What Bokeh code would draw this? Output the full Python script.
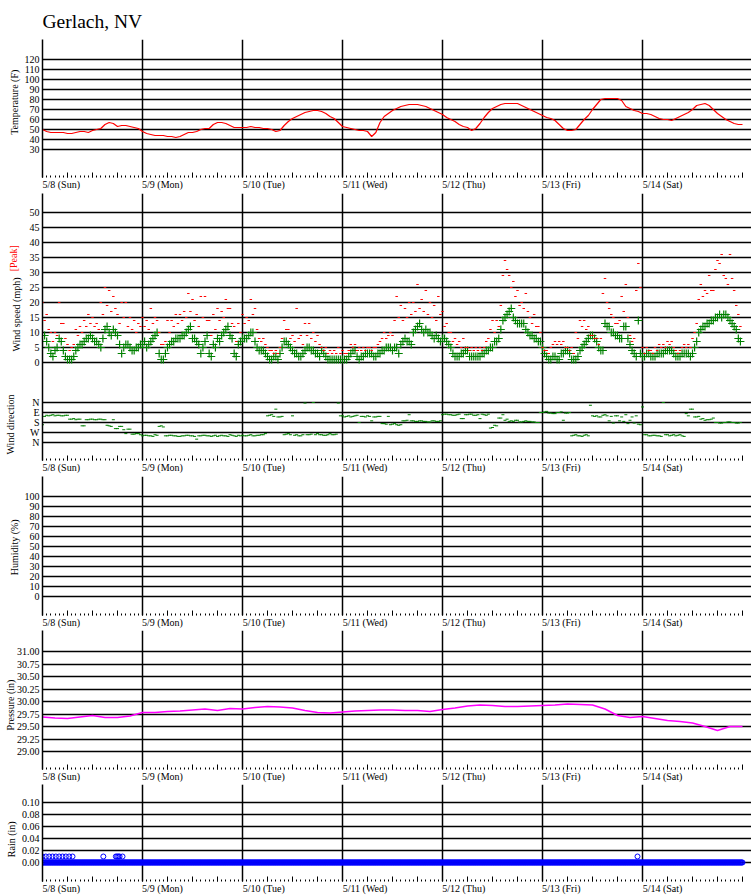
import numpy as np
from bokeh.plotting import figure
from bokeh.layouts import column
from bokeh.models import (Range1d, FixedTicker, LinearAxis, PrintfTickFormatter)
from bokeh.embed import file_html
from bokeh.resources import INLINE

FONT = "Liberation Serif"

title_text = "Gerlach, NV"
day_labels = ["5/8 (Sun)", "5/9 (Mon)", "5/10 (Tue)", "5/11 (Wed)",
              "5/12 (Thu)", "5/13 (Fri)", "5/14 (Sat)"]
dir_names = ["N", "E", "S", "W", "N"]
dir_values = [0, 90, 180, 270, 360]

# ---------------- Temperature (F), hourly from 5/8 00:00 ----------------
temp_d0 = [50, 48, 47, 47, 47, 47, 46, 46, 47, 48, 48, 47, 49, 50, 51, 55, 57, 56, 53, 54, 54, 53, 52, 51]
temp_d1 = [48, 46, 45, 44, 44, 44, 43, 43, 42, 43, 45, 47, 47, 48, 50, 51, 51, 55, 57, 57, 56, 54, 52, 52]
temp_d2 = [52, 52, 53, 52, 52, 51, 51, 50, 48, 49, 54, 58, 61, 63, 65, 67, 68, 69, 69, 68, 66, 63, 61, 57]
temp_d3 = [53, 52, 51, 50, 49, 49, 48, 43, 47, 57, 63, 66, 69, 71, 73, 74, 75, 75, 75, 74, 73, 71, 69, 67]
temp_d4 = [65, 62, 60, 58, 55, 53, 52, 49, 51, 56, 62, 67, 71, 73, 75, 76, 76, 76, 76, 74, 72, 70, 68, 66]
temp_d5 = [64, 62, 61, 59, 55, 51, 49, 49, 50, 55, 60, 64, 70, 75, 80, 81, 81, 81, 81, 79, 73, 71, 69, 68]
temp_d6 = [66, 66, 65, 63, 61, 60, 60, 59, 61, 63, 65, 67, 70, 74, 75, 76, 74, 70, 66, 63, 60, 58, 56, 55]
temp_end = [55]

# ---------------- Wind speed (mph), half-hourly ----------------
speed_d0 = [7, 9, 7, 5, 3, 2, 4, 5, 8, 7, 4, 2, 1, 1, 1, 2, 4, 5, 6, 6, 7, 8, 8, 9,
            8, 7, 7, 6, 5, 8, 11, 12, 10, 9, 11, 10, 9, 6, 3, 5, 6, 6, 5, 4, 4, 5, 5, 6]
speed_d1 = [6, 7, 5, 6, 7, 8, 9, 10, 3, 1, 1, 3, 5, 6, 7, 7, 8, 8, 8, 9, 9, 10, 11, 12,
            8, 8, 7, 6, 3, 5, 7, 9, 3, 2, 6, 5, 8, 7, 9, 10, 11, 12, 9, 8, 3, 2, 6, 7]
speed_d2 = [8, 8, 8, 9, 10, 10, 7, 5, 4, 4, 4, 3, 2, 1, 1, 2, 2, 1, 3, 5, 7, 7, 6, 5,
            4, 3, 3, 2, 2, 3, 4, 5, 5, 4, 4, 3, 3, 2, 4, 3, 2, 1, 1, 1, 1, 1, 1, 1]
speed_d3 = [1, 1, 1, 2, 3, 4, 4, 2, 1, 2, 2, 3, 3, 3, 3, 2, 2, 3, 3, 4, 4, 5, 5, 5,
            4, 5, 5, 3, 6, 7, 8, 7, 7, 6, 10, 11, 12, 13, 11, 10, 11, 10, 10, 9, 8, 9, 8, 7]
speed_d4 = [8, 8, 7, 6, 5, 3, 2, 2, 2, 3, 3, 4, 4, 2, 2, 2, 2, 2, 2, 3, 3, 4, 4, 5,
            5, 7, 7, 8, 11, 14, 15, 16, 17, 18, 15, 14, 13, 13, 13, 13, 11, 10, 9, 9, 8, 8, 7, 7]
speed_d5 = [5, 3, 2, 1, 1, 2, 2, 1, 1, 3, 3, 4, 4, 3, 1, 1, 1, 2, 4, 5, 6, 7, 8, 9,
            9, 8, 7, 5, 4, 4, 13, 12, 12, 10, 10, 9, 9, 8, 8, 12, 12, 8, 6, 4, 3, 2, 14, 3]
speed_d6 = [2, 2, 3, 3, 2, 2, 2, 3, 3, 3, 3, 4, 4, 4, 4, 3, 2, 2, 2, 3, 3, 3, 3, 2,
            3, 5, 7, 10, 11, 12, 12, 13, 13, 14, 14, 15, 15, 16, 15, 16, 16, 15, 14, 13, 12, 11, 8, 7]

# ---------------- Peak wind (mph), half-hourly ----------------
peak_d0 = [20, 14, 16, 11, 10, 7, 10, 9, 20, 13, 13, 8, 6, 4, 5, 6, 11, 9, 12, 10, 14, 12, 16, 13,
           15, 12, 13, 11, 20, 16, 25, 19, 24, 17, 22, 18, 16, 13, 20, 15, 20, 12, 15, 11, 14, 10, 13, 12]
peak_d1 = [15, 12, 14, 11, 18, 13, 15, 14, 10, 6, 6, 7, 14, 10, 14, 12, 16, 13, 16, 14, 17, 15, 23, 17,
           21, 14, 16, 12, 22, 15, 22, 14, 14, 9, 16, 11, 18, 14, 17, 15, 21, 18, 18, 13, 12, 7, 13, 10]
peak_d2 = [16, 13, 15, 14, 21, 16, 18, 11, 8, 7, 8, 6, 5, 4, 4, 3, 4, 3, 5, 8, 14, 11, 11, 8,
           9, 7, 18, 8, 9, 6, 13, 9, 13, 8, 10, 7, 9, 6, 5, 4, 5, 3, 4, 3, 4, 3, 5, 3]
peak_d3 = [4, 3, 3, 4, 6, 5, 6, 4, 5, 4, 5, 4, 5, 5, 4, 5, 5, 6, 7, 8, 10, 8, 9, 10,
           9, 14, 22, 15, 19, 14, 18, 15, 20, 16, 20, 17, 26, 18, 21, 17, 24, 16, 20, 15, 19, 14, 22, 16]
peak_d4 = [17, 12, 13, 10, 10, 7, 8, 6, 7, 5, 8, 5, 5, 4, 5, 4, 5, 4, 5, 4, 5, 7, 8, 11,
           14, 10, 14, 12, 19, 29, 34, 31, 29, 25, 27, 22, 24, 19, 20, 18, 23, 17, 15, 13, 16, 12, 12, 10]
peak_d5 = [5, 4, 4, 3, 5, 6, 7, 6, 7, 6, 7, 5, 5, 4, 5, 3, 10, 8, 14, 12, 14, 11, 12, 9,
           9, 8, 8, 6, 8, 23, 28, 20, 18, 16, 15, 13, 13, 14, 22, 17, 26, 15, 9, 7, 8, 24, 33, 25]
peak_d6 = [5, 3, 5, 4, 4, 3, 5, 4, 6, 5, 6, 5, 7, 6, 7, 5, 4, 3, 4, 5, 6, 5, 6, 5,
           8, 10, 13, 21, 26, 22, 24, 23, 29, 24, 24, 31, 34, 33, 36, 29, 28, 26, 36, 28, 24, 19, 16, 12]

# ---------------- Wind direction (degrees), half-hourly ----------------
dir_d0 = [200, 125, 115, 120, 115, 110, 120, 115, 115, 120, 120, 115, 115, 150, 150, 145, 155, 150, 150, 210,
          210, 155, 155, 150, 150, 155, 155, 150, 150, 155, 155, 205, 210, 215, 155, 235, 235, 215, 215, 245,
          280, 240, 240, 285, 285, 280, 280, 290]
dir_d1 = [300, 295, 295, 300, 300, 305, 290, 295, 215, 210, 220, 300, 300, 295, 295, 300, 300, 305, 305, 300,
          300, 295, 295, 300, 300, 305, 330, 300, 300, 295, 295, 300, 300, 305, 300, 295, 305, 300, 295, 300,
          300, 305, 290, 295, 300, 305, 295, 300]
dir_d2 = [295, 300, 300, 295, 290, 300, 300, 295, 295, 290, 290, 280, 120, 115, 110, 125, 60, 130, 130, 125,
          290, 285, 280, 290, 120, 295, 290, 300, 300, 290, 5, 290, 290, 285, 0, 290, 280, 290, 290, 295,
          295, 290, 280, 290, 290, 285, 5, 120]
dir_d3 = [120, 130, 125, 120, 130, 125, 120, 115, 180, 125, 125, 130, 120, 125, 165, 130, 130, 125, 125, 190,
          190, 195, 125, 200, 195, 190, 200, 205, 200, 165, 165, 160, 110, 165, 165, 170, 170, 165, 165, 170,
          170, 175, 175, 165, 165, 170, 170, 165]
dir_d4 = [110, 105, 105, 110, 110, 115, 115, 110, 105, 145, 145, 110, 110, 105, 105, 115, 115, 110, 145, 105,
          110, 115, 105, 230, 225, 205, 210, 140, 140, 110, 160, 150, 170, 165, 170, 160, 160, 175, 175, 170,
          165, 170, 170, 175, 175, 180, 180, 90]
dir_d5 = [90, 85, 80, 95, 95, 100, 100, 90, 90, 85, 160, 95, 95, 90, 300, 295, 290, 300, 300, 305,
          295, 290, 300, 25, 120, 125, 120, 130, 130, 115, 110, 120, 165, 125, 185, 120, 120, 165, 130, 170,
          110, 190, 160, 130, 185, 120, 195, 200]
dir_d6 = [40, 290, 290, 300, 300, 295, 295, 300, 300, 305, 0, 290, 290, 300, 295, 290, 300, 295, 290, 300,
          305, 100, 120, 60, 60, 130, 130, 125, 150, 145, 160, 155, 155, 150, 140, 180, 180, 185, 185, 180,
          180, 175, 175, 180, 180, 185, 185, 180]

# ---------------- Pressure (in), every 3 hours ----------------
pres_d0 = [29.69, 29.67, 29.66, 29.69, 29.72, 29.68, 29.68, 29.71]
pres_d1 = [29.78, 29.78, 29.80, 29.81, 29.83, 29.85, 29.82, 29.86]
pres_d2 = [29.85, 29.88, 29.90, 29.89, 29.87, 29.82, 29.78, 29.77]
pres_d3 = [29.79, 29.81, 29.82, 29.83, 29.83, 29.82, 29.82, 29.80]
pres_d4 = [29.84, 29.87, 29.91, 29.93, 29.92, 29.90, 29.90, 29.91]
pres_d5 = [29.92, 29.93, 29.95, 29.94, 29.93, 29.85, 29.72, 29.68]
pres_d6 = [29.70, 29.66, 29.62, 29.60, 29.57, 29.50, 29.42, 29.50]
pres_end = [29.50]

# ---------------- Rain (in) ----------------
rain_step_minutes = 10
rain_end_hours = 168.0
rain_hit_hours = [0, 0.8, 1.6, 2.4, 3.2, 4.0, 4.8, 5.6, 6.4, 7.2, 14.6,
                  17.6, 17.9, 18.2, 18.5, 19.2, 142.8]
rain_hit_value = 0.01

# ---------------- assemble ----------------
temperature = temp_d0 + temp_d1 + temp_d2 + temp_d3 + temp_d4 + temp_d5 + temp_d6 + temp_end
temp_t = [h / 24 for h in range(len(temperature))]

speed = speed_d0 + speed_d1 + speed_d2 + speed_d3 + speed_d4 + speed_d5 + speed_d6
peak = peak_d0 + peak_d1 + peak_d2 + peak_d3 + peak_d4 + peak_d5 + peak_d6
wdir = dir_d0 + dir_d1 + dir_d2 + dir_d3 + dir_d4 + dir_d5 + dir_d6
wind_t = [i / 48 for i in range(len(speed))]

pressure = pres_d0 + pres_d1 + pres_d2 + pres_d3 + pres_d4 + pres_d5 + pres_d6 + pres_end
pres_t = [3 * i / 24 for i in range(len(pressure))]

rain_zero_t = list(np.arange(0, rain_end_hours * 60 + 1, rain_step_minutes) / 1440.0)
rain_zero_v = [0.0] * len(rain_zero_t)
rain_hit_t = [h / 24 for h in rain_hit_hours]
rain_hit_v = [rain_hit_value] * len(rain_hit_t)

# ---------------- text helpers (Times-like advance widths, em units) ----------------
NBSP = "\u00a0"
CHAR_EM = {"0": .5, "1": .5, "2": .5, "3": .5, "4": .5, "5": .5, "6": .5, "7": .5,
           "8": .5, "9": .5, "/": .278, " ": .25, "(": .333, ")": .333, "S": .556,
           "u": .5, "n": .5, "M": .889, "o": .5, "T": .611, "e": .444, "W": .944,
           "d": .5, "h": .5, "F": .556, "r": .333, "i": .278, "a": .444, "t": .278}
FS = 10.0
NB_W = 0.25 * FS


def text_w(s):
    return sum(CHAR_EM.get(c, .5) for c in s) * FS


def left_aligned(s):
    # centred tick label whose visible text starts at the tick
    return NBSP * int(round(text_w(s) / NB_W)) + s


def shifted(s, px):
    # vertical axis label moved by px towards its end (up) (negative: down)
    n = int(round(2 * abs(px) / NB_W))
    return NBSP * n + s if px > 0 else s + NBSP * n


# ---------------- layout helpers ----------------
FRAME_W = 709
LEFT = 42
xr = Range1d(0, 7.09)
six_hour = [i * 0.25 for i in range(29)]
hourly = [i / 24 for i in range(169)]
day_lines = list(range(7))
GRID = "#000000"


def make_fig(frame_h, yr, yticks, top, bottom, ylabel, lab_standoff,
             fmt=None, overrides=None, day_standoff=1):
    p = figure(frame_width=FRAME_W, frame_height=frame_h, x_range=xr, y_range=yr,
               output_backend="svg", toolbar_location=None,
               min_border_left=LEFT, min_border_right=0,
               min_border_top=top, min_border_bottom=bottom,
               outline_line_color=None, background_fill_color="white",
               border_fill_color="white")
    # tick axis (6-hour ticks, hourly dots)
    xa = p.xaxis[0]
    xa.ticker = FixedTicker(ticks=six_hour, minor_ticks=hourly)
    xa.major_tick_in = 5
    xa.major_tick_out = 0
    xa.minor_tick_in = 2
    xa.minor_tick_out = 0
    xa.major_tick_line_color = "black"
    xa.minor_tick_line_color = "black"
    xa.axis_line_color = None
    xa.major_label_text_color = None
    xa.major_label_text_font_size = "1px"
    xa.major_label_standoff = 0
    # day-label axis
    day_ax = LinearAxis(ticker=FixedTicker(ticks=day_lines),
                        major_label_overrides={d: left_aligned(t) for d, t in zip(day_lines, day_labels)},
                        axis_line_color=None, major_tick_line_color=None,
                        minor_tick_line_color=None, major_tick_in=0, major_tick_out=0,
                        minor_tick_in=0, minor_tick_out=0,
                        major_label_standoff=day_standoff, major_label_text_font=FONT,
                        major_label_text_font_size="10px", major_label_text_color="black")
    p.add_layout(day_ax, "below")

    ya = p.yaxis[0]
    ya.ticker = FixedTicker(ticks=yticks)
    ya.major_tick_in = 0
    ya.major_tick_out = 0
    ya.minor_tick_in = 0
    ya.minor_tick_out = 0
    ya.minor_tick_line_color = None
    ya.axis_line_color = "black"
    ya.axis_line_width = 1.5
    ya.major_label_text_font = FONT
    ya.major_label_text_font_size = "10px"
    ya.major_label_text_color = "black"
    ya.major_label_standoff = 3
    ya.axis_label = ylabel
    ya.axis_label_standoff = lab_standoff
    ya.axis_label_text_font = FONT
    ya.axis_label_text_font_size = "10px"
    ya.axis_label_text_font_style = "normal"
    ya.axis_label_text_color = "black"
    if fmt is not None:
        ya.formatter = PrintfTickFormatter(format=fmt)
    if overrides is not None:
        ya.major_label_overrides = overrides

    p.xgrid.ticker = FixedTicker(ticks=day_lines)
    p.xgrid.grid_line_color = GRID
    p.xgrid.grid_line_width = 1.5
    p.ygrid.ticker = FixedTicker(ticks=yticks)
    p.ygrid.grid_line_color = GRID
    p.ygrid.grid_line_width = 1.5
    return p


def overlay_label(p, text, color, standoff):
    ax = LinearAxis(ticker=FixedTicker(ticks=[]), axis_label=text,
                    axis_line_color=None, major_tick_line_color=None,
                    minor_tick_line_color=None, major_tick_in=0, major_tick_out=0,
                    minor_tick_in=0, minor_tick_out=0,
                    major_label_text_color=None, major_label_text_font_size="1px",
                    major_label_standoff=0,
                    axis_label_standoff=standoff, axis_label_text_font=FONT,
                    axis_label_text_font_size="10px", axis_label_text_font_style="normal",
                    axis_label_text_color=color)
    p.add_layout(ax, "left")


# ---------------- Temperature ----------------
p1 = make_fig(138, Range1d(2, 140), list(range(30, 121, 10)), 39, 16,
              shifted("Temperature (F)", 6), 2)
p1.title.text = title_text
p1.title.align = "left"
p1.title.text_font = FONT
p1.title.text_font_size = "19.5px"
p1.title.text_font_style = "normal"
p1.title.text_color = "black"
p1.title.standoff = 15
p1.line(temp_t, temperature, line_color="#ff0000", line_width=1.2)

# ---------------- Wind ----------------
spd_lo, spd_hi = -32.67, 56.33
dir_lo, dir_hi = 522.0, -1881.0
def dir_to_speed_axis(d):
    return spd_lo + (d - dir_lo) * (spd_hi - spd_lo) / (dir_hi - dir_lo)
dir_tick_pos = [round(dir_to_speed_axis(d), 4) for d in dir_values]
speed_ticks = list(range(0, 51, 5))
wind_overrides = {pos: name for pos, name in zip(dir_tick_pos, dir_names)}
p2 = make_fig(267, Range1d(spd_lo, spd_hi), speed_ticks + dir_tick_pos, 0, 16,
              shifted("Wind speed (mph)", 12.5), 5, overrides=wind_overrides)
overlay_label(p2, shifted("[Peak]", 68.5), "#ff0000", -11)
overlay_label(p2, shifted("Wind direction", -97), "black", -11)
p2.extra_y_ranges = {"dir": Range1d(start=dir_lo, end=dir_hi)}
p2.scatter(wind_t, speed, marker="cross", size=8, line_color="#008000", line_width=1.2)
p2.scatter(wind_t, wdir, y_range_name="dir", marker="dash", size=3,
           line_color="#008000", line_width=1)
p2.scatter(wind_t, peak, marker="dash", size=2.5, line_color="#ff0000", line_width=1)

# ---------------- Humidity ----------------
p3 = make_fig(139, Range1d(-19.3, 119.7), list(range(0, 101, 10)), 0, 15,
              shifted("Humidity (%)", -1.5), 2)

# ---------------- Pressure ----------------
p4 = make_fig(139, Range1d(28.64, 31.42), [29 + 0.25 * i for i in range(9)], 0, 14,
              shifted("Pressure (in)", -5.5), -2, fmt="%.2f")
p4.line(pres_t, pressure, line_color="#ff00ff", line_width=1.5)

# ---------------- Rain ----------------
p5 = make_fig(97, Range1d(-0.03167, 0.13), [0.02 * i for i in range(6)], 0, 15,
              shifted("Rain (in)", -6.5), 2, fmt="%.2f")
p5.scatter(rain_zero_t, rain_zero_v, marker="circle", size=5, fill_color=None,
           line_color="#0000ff", line_width=1)
p5.scatter(rain_hit_t, rain_hit_v, marker="circle", size=5, fill_color=None,
           line_color="#0000ff", line_width=1)

layout = column(p1, p2, p3, p4, p5, spacing=0)
open("out.html", "w").write(file_html(layout, INLINE))
